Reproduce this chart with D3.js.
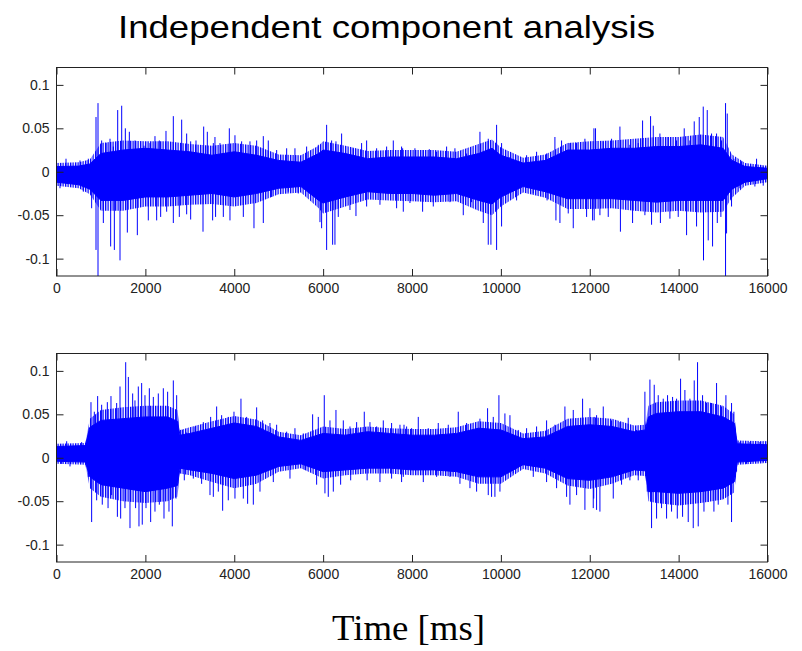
<!DOCTYPE html>
<html>
<head>
<meta charset="utf-8">
<script src="https://cdn.jsdelivr.net/npm/d3@7"></script>
<style>
  body { margin: 0; background: #fff; }
  svg { display: block; }
  .tick text { font-family: "Liberation Sans", Arial, sans-serif; font-size: 14px; fill: #222; }
  .tick line { stroke: #222; }
</style>
</head>
<body>
<div id="chart"></div>
<script>
// time ticks (ms) and amplitude ticks
const xTicks = [0, 2000, 4000, 6000, 8000, 10000, 12000, 14000, 16000];
const yTicks = [-0.1, -0.05, 0, 0.05, 0.1];
const yTickLabels = ["-0.1", "-0.05", "0", "0.05", "0.1"];

// component 1: solid core of the signal (upper / lower edge)
const core1T = [0, 500, 750, 1000, 1500, 2000, 2500, 3000, 3500, 4000, 4500, 5000, 5500, 5900, 6000, 6500, 7000, 7500, 8000, 8500, 9000, 9500, 9800, 10000, 10500, 11000, 11500, 12000, 12500, 13000, 13500, 14000, 14500, 15000, 15200, 15500, 16000];
const core1Hi = [0.006, 0.0065, 0.009, 0.021, 0.025, 0.027, 0.025, 0.023, 0.019, 0.023, 0.019, 0.013, 0.011, 0.021, 0.025, 0.021, 0.015, 0.017, 0.017, 0.017, 0.015, 0.021, 0.027, 0.019, 0.010, 0.013, 0.025, 0.025, 0.027, 0.027, 0.029, 0.029, 0.031, 0.027, 0.013, 0.006, 0.004];
const core1Lo = [-0.012, -0.015, -0.02, -0.033, -0.033, -0.029, -0.029, -0.027, -0.025, -0.029, -0.025, -0.019, -0.017, -0.033, -0.036, -0.029, -0.023, -0.025, -0.025, -0.027, -0.025, -0.033, -0.037, -0.029, -0.017, -0.023, -0.031, -0.031, -0.031, -0.033, -0.035, -0.033, -0.033, -0.033, -0.02, -0.012, -0.008];
// looser fringe around the core, where the trace is only partly filled
const fringe1Hi = [0.01, 0.011, 0.014, 0.033, 0.036, 0.035, 0.035, 0.032, 0.03, 0.033, 0.03, 0.02, 0.019, 0.03, 0.035, 0.03, 0.024, 0.025, 0.025, 0.025, 0.023, 0.032, 0.037, 0.028, 0.016, 0.02, 0.033, 0.035, 0.036, 0.038, 0.04, 0.04, 0.043, 0.04, 0.02, 0.01, 0.007];
const fringe1Lo = [-0.016, -0.019, -0.026, -0.045, -0.045, -0.04, -0.04, -0.038, -0.037, -0.04, -0.036, -0.026, -0.024, -0.042, -0.048, -0.04, -0.032, -0.033, -0.034, -0.035, -0.034, -0.045, -0.05, -0.04, -0.024, -0.03, -0.043, -0.043, -0.042, -0.045, -0.047, -0.045, -0.047, -0.046, -0.03, -0.016, -0.012];

// component 1: single peaks sticking out of the core [time, value]
const peaks1 = [
  [214, 0.015], [529, 0.013], [716, 0.015], [889, 0.063], [934, 0.079], [1016, 0.036], [1114, 0.033], [1204, 0.038], [1279, 0.029], [1377, 0.071], [1467, 0.076], [1549, 0.05], [1639, 0.046], [1767, 0.036], [1969, 0.03], [2104, 0.033], [2216, 0.041], [2314, 0.036], [2464, 0.047], [2629, 0.064], [2817, 0.06], [2929, 0.044], [3019, 0.035], [3139, 0.036], [3312, 0.052], [3394, 0.046], [3529, 0.033],
  [79, -0.019], [604, -0.023], [791, -0.042], [889, -0.09], [934, -0.121], [1054, -0.059], [1219, -0.086], [1302, -0.09], [1429, -0.102], [1594, -0.07], [1819, -0.073], [2066, -0.056], [2254, -0.056], [2344, -0.052], [2479, -0.046], [2629, -0.059], [2764, -0.052], [2929, -0.049], [3019, -0.055], [3297, -0.069], [3514, -0.056],
  [3566, 0.04], [3679, 0.033], [3889, 0.05], [4016, 0.042], [4166, 0.035], [4354, 0.035], [4504, 0.036], [4654, 0.041], [4766, 0.036], [4954, 0.025], [5179, 0.027], [5366, 0.027], [5629, 0.029], [5891, 0.031], [6079, 0.054], [6191, 0.036], [6289, 0.035], [6416, 0.044], [6679, 0.027], [6866, 0.033], [6979, 0.036], [7204, 0.027], [7429, 0.029], [7579, 0.036], [7766, 0.029],
  [3580, -0.052], [3754, -0.052], [3904, -0.056], [4204, -0.052], [4444, -0.065], [4654, -0.059], [4841, -0.029], [5216, -0.023], [5441, -0.025], [5704, -0.023], [5929, -0.058], [5966, -0.065], [6079, -0.09], [6214, -0.084], [6266, -0.084], [6341, -0.052], [6604, -0.044], [6739, -0.051], [6979, -0.04], [7279, -0.038], [7654, -0.042],
  [7790, 0.027], [8066, 0.027], [8254, 0.025], [8389, 0.026], [8554, 0.023], [8779, 0.029], [8966, 0.027], [9229, 0.021], [9529, 0.046], [9716, 0.038], [9904, 0.054], [10016, 0.033], [10204, 0.017], [10579, 0.019], [10804, 0.023], [11029, 0.021], [11216, 0.04], [11366, 0.036], [11554, 0.033], [11704, 0.033], [11891, 0.038], [12094, 0.05],
  [7804, -0.046], [7954, -0.036], [8239, -0.046], [8479, -0.04], [8854, -0.035], [9154, -0.05], [9341, -0.035], [9604, -0.059], [9716, -0.084], [9776, -0.084], [9904, -0.09], [10016, -0.063], [10354, -0.033], [10729, -0.025], [11040, -0.033], [11239, -0.056], [11329, -0.059], [11516, -0.048], [11629, -0.065], [11929, -0.052], [12064, -0.056],
  [12130, 0.05], [12304, 0.035], [12491, 0.038], [12679, 0.052], [12904, 0.031], [13091, 0.033], [13189, 0.059], [13369, 0.064], [13429, 0.053], [13579, 0.044], [13766, 0.04], [13954, 0.036], [14126, 0.05], [14254, 0.036], [14351, 0.058], [14464, 0.063], [14554, 0.075], [14644, 0.071], [14741, 0.044], [14854, 0.044], [14966, 0.036], [15056, 0.079], [15094, 0.067], [15244, 0.015], [15416, 0.012], [15754, 0.015], [15904, 0.006],
  [12100, -0.056], [12229, -0.05], [12416, -0.052], [12690, -0.069], [12964, -0.059], [13241, -0.05], [13391, -0.061], [13590, -0.059], [13804, -0.054], [13991, -0.052], [14179, -0.073], [14404, -0.063], [14560, -0.102], [14666, -0.079], [14764, -0.086], [14870, -0.059], [14951, -0.052], [15056, -0.121], [15079, -0.071], [15191, -0.04], [15379, -0.019], [15716, -0.017], [15904, -0.016]
];

// component 2
const core2T = [0, 650, 750, 1000, 1500, 2000, 2500, 2720, 2780, 3000, 3500, 4000, 4500, 5000, 5500, 6000, 6500, 7000, 7500, 8000, 8500, 9000, 9500, 10000, 10500, 11000, 11500, 12000, 12500, 13000, 13250, 13320, 13500, 14000, 14500, 15000, 15250, 15320, 16000];
const core2Hi = [0.013, 0.014, 0.035, 0.043, 0.045, 0.047, 0.047, 0.042, 0.026, 0.028, 0.034, 0.04, 0.036, 0.024, 0.02, 0.028, 0.026, 0.03, 0.028, 0.026, 0.026, 0.028, 0.034, 0.032, 0.022, 0.024, 0.036, 0.038, 0.036, 0.03, 0.032, 0.047, 0.051, 0.053, 0.053, 0.047, 0.04, 0.016, 0.015];
const core2Lo = [-0.004, -0.005, -0.022, -0.031, -0.035, -0.039, -0.035, -0.032, -0.012, -0.014, -0.018, -0.024, -0.02, -0.01, -0.007, -0.016, -0.014, -0.012, -0.012, -0.014, -0.014, -0.016, -0.022, -0.022, -0.008, -0.012, -0.024, -0.026, -0.022, -0.014, -0.015, -0.039, -0.039, -0.041, -0.039, -0.035, -0.028, -0.005, -0.003];
const fringe2Hi = [0.016, 0.017, 0.045, 0.055, 0.058, 0.06, 0.06, 0.055, 0.032, 0.035, 0.042, 0.048, 0.044, 0.03, 0.026, 0.036, 0.033, 0.036, 0.034, 0.033, 0.033, 0.035, 0.042, 0.04, 0.028, 0.031, 0.045, 0.047, 0.045, 0.037, 0.038, 0.06, 0.064, 0.066, 0.066, 0.06, 0.05, 0.02, 0.019];
const fringe2Lo = [-0.007, -0.008, -0.035, -0.045, -0.05, -0.052, -0.05, -0.045, -0.018, -0.02, -0.028, -0.035, -0.03, -0.016, -0.012, -0.024, -0.02, -0.018, -0.018, -0.02, -0.02, -0.022, -0.03, -0.03, -0.013, -0.018, -0.032, -0.036, -0.03, -0.02, -0.021, -0.05, -0.052, -0.055, -0.052, -0.048, -0.04, -0.008, -0.006];

const peaks2 = [
  [229, 0.019], [566, 0.018], [776, 0.064], [851, 0.053], [926, 0.071], [1016, 0.061], [1144, 0.064], [1226, 0.071], [1354, 0.063], [1429, 0.082], [1557, 0.11], [1617, 0.093], [1714, 0.074], [1766, 0.066], [1841, 0.082], [1916, 0.086], [1991, 0.072], [2089, 0.08], [2179, 0.07], [2291, 0.074], [2404, 0.08], [2501, 0.076], [2629, 0.089], [2704, 0.072], [2839, 0.032], [2929, 0.029], [3116, 0.036], [3304, 0.041], [3469, 0.047],
  [116, -0.007], [304, -0.01], [716, -0.022], [791, -0.074], [904, -0.049], [1030, -0.054], [1160, -0.058], [1241, -0.043], [1370, -0.068], [1444, -0.07], [1541, -0.058], [1654, -0.081], [1780, -0.058], [1856, -0.079], [1930, -0.077], [2014, -0.058], [2119, -0.074], [2216, -0.062], [2314, -0.054], [2419, -0.07], [2531, -0.062], [2606, -0.079], [2689, -0.047], [2876, -0.026], [3079, -0.024], [3266, -0.03], [3454, -0.043],
  [3604, 0.059], [3716, 0.049], [3866, 0.047], [3994, 0.053], [4151, 0.068], [4279, 0.047], [4504, 0.058], [4639, 0.043], [4804, 0.04], [4954, 0.038], [5179, 0.03], [5366, 0.034], [5554, 0.028], [5764, 0.05], [5891, 0.047], [6026, 0.072], [6154, 0.043], [6289, 0.055], [6454, 0.043], [6604, 0.036], [6754, 0.041], [6926, 0.053], [7054, 0.041], [7204, 0.036], [7354, 0.043], [7541, 0.04], [7729, 0.038], [7879, 0.036],
  [3529, -0.045], [3641, -0.039], [3739, -0.061], [3866, -0.049], [4016, -0.047], [4204, -0.047], [4301, -0.053], [4429, -0.054], [4579, -0.039], [4879, -0.028], [5254, -0.024], [5591, -0.014], [5854, -0.031], [6041, -0.041], [6116, -0.045], [6229, -0.039], [6394, -0.031], [6620, -0.026], [6990, -0.026], [7279, -0.028], [7541, -0.024], [7804, -0.022],
  [7820, 0.038], [7991, 0.034], [8141, 0.047], [8366, 0.034], [8591, 0.04], [8816, 0.038], [9041, 0.053], [9229, 0.04], [9529, 0.045], [9701, 0.057], [9829, 0.047], [9956, 0.072], [10091, 0.051], [10204, 0.049], [10391, 0.032], [10579, 0.034], [10804, 0.036], [11029, 0.043], [11216, 0.038], [11441, 0.059], [11629, 0.055], [11839, 0.068], [12004, 0.057], [12154, 0.049],
  [7766, -0.028], [8254, -0.028], [8554, -0.022], [8854, -0.022], [9079, -0.03], [9304, -0.035], [9454, -0.039], [9716, -0.043], [9791, -0.045], [9866, -0.045], [9979, -0.039], [10279, -0.018], [10729, -0.022], [11029, -0.028], [11254, -0.035], [11479, -0.045], [11554, -0.054], [11704, -0.043], [11891, -0.06], [12079, -0.058],
  [12100, 0.047], [12304, 0.059], [12491, 0.043], [12679, 0.041], [12866, 0.046], [13054, 0.032], [13241, 0.076], [13354, 0.09], [13451, 0.084], [13541, 0.072], [13654, 0.068], [13751, 0.072], [13864, 0.07], [13954, 0.068], [14044, 0.091], [14141, 0.078], [14254, 0.068], [14351, 0.089], [14426, 0.11], [14539, 0.072], [14629, 0.063], [14741, 0.063], [14854, 0.086], [14966, 0.059], [15064, 0.072], [15191, 0.063], [15244, 0.053], [15379, 0.018], [15604, 0.018], [15829, 0.018],
  [12090, -0.047], [12154, -0.06], [12229, -0.062], [12529, -0.047], [12716, -0.031], [12904, -0.026], [13091, -0.026], [13294, -0.039], [13391, -0.081], [13504, -0.07], [13616, -0.058], [13729, -0.07], [13841, -0.062], [13970, -0.07], [14089, -0.068], [14216, -0.074], [14329, -0.081], [14441, -0.079], [14570, -0.062], [14666, -0.051], [14794, -0.062], [14891, -0.054], [15004, -0.047], [15110, -0.054], [15191, -0.074], [15304, -0.016], [15529, -0.007], [15904, -0.005]
];

const width = 802, height = 651;
const svg = d3.select("#chart").append("svg")
  .attr("width", width)
  .attr("height", height);

svg.append("rect").attr("width", width).attr("height", height).attr("fill", "#fff");

// thin vertical strokes used to fill the fringe
const defs = svg.append("defs");
const pat = defs.append("pattern")
  .attr("id", "strokes")
  .attr("patternUnits", "userSpaceOnUse")
  .attr("width", 2.5)
  .attr("height", 20);
pat.append("rect").attr("x", 0).attr("y", 0).attr("width", 1.3).attr("height", 20).attr("fill", "#0000ff");

const x = d3.scaleLinear().domain([0, 16000]).range([56.5, 767.5]);

const panels = [
  { id: "p1", top: 67.5, bottom: 276, coreT: core1T, hi: core1Hi, lo: core1Lo, fHi: fringe1Hi, fLo: fringe1Lo, peaks: peaks1 },
  { id: "p2", top: 353.5, bottom: 562, coreT: core2T, hi: core2Hi, lo: core2Lo, fHi: fringe2Hi, fLo: fringe2Lo, peaks: peaks2 }
];

panels.forEach((p) => {
  const y = d3.scaleLinear().domain([-0.12, 0.12]).range([p.bottom, p.top]);

  svg.append("clipPath").attr("id", `clip-${p.id}`)
    .append("rect")
    .attr("x", x(0)).attr("y", p.top)
    .attr("width", x(16000) - x(0)).attr("height", p.bottom - p.top);

  const g = svg.append("g").attr("clip-path", `url(#clip-${p.id})`);

  // fringe, then the solid core on top
  const fringe = d3.area()
    .x((d, i) => x(p.coreT[i]))
    .y0((d, i) => y(p.fLo[i]))
    .y1((d, i) => y(p.fHi[i]));
  g.append("path")
    .datum(p.coreT)
    .attr("d", fringe)
    .attr("fill", "url(#strokes)");

  const core = d3.area()
    .x((d, i) => x(p.coreT[i]))
    .y0((d, i) => y(p.lo[i]))
    .y1((d, i) => y(p.hi[i]));
  g.append("path")
    .datum(p.coreT)
    .attr("d", core)
    .attr("fill", "#0000ff")
    .attr("stroke", "#0000ff")
    .attr("stroke-width", 1);

  // individual peaks
  g.selectAll("line.peak")
    .data(p.peaks)
    .enter()
    .append("line")
    .attr("class", "peak")
    .attr("x1", (d) => x(d[0]))
    .attr("x2", (d) => x(d[0]))
    .attr("y1", y(0))
    .attr("y2", (d) => y(d[1]))
    .attr("stroke", "#0000ff")
    .attr("stroke-width", 1);

  // axes: ticks point inward, like the original
  const bottomAxis = d3.axisBottom(x).tickValues(xTicks).tickSizeInner(-7).tickSizeOuter(0).tickPadding(7).tickFormat(d3.format("d"));
  const topAxis = d3.axisTop(x).tickValues(xTicks).tickSizeInner(-7).tickSizeOuter(0).tickFormat("");
  const leftAxis = d3.axisLeft(y).tickValues(yTicks).tickSizeInner(-7).tickSizeOuter(0).tickPadding(7)
    .tickFormat((d, i) => yTickLabels[i]);
  const rightAxis = d3.axisRight(y).tickValues(yTicks).tickSizeInner(-7).tickSizeOuter(0).tickFormat("");

  [
    svg.append("g").attr("transform", `translate(0,${p.bottom})`).call(bottomAxis),
    svg.append("g").attr("transform", `translate(0,${p.top})`).call(topAxis),
    svg.append("g").attr("transform", `translate(${x(0)},0)`).call(leftAxis),
    svg.append("g").attr("transform", `translate(${x(16000)},0)`).call(rightAxis)
  ].forEach((a) => a.select(".domain").remove());

  svg.append("rect")
    .attr("x", x(0)).attr("y", p.top)
    .attr("width", x(16000) - x(0)).attr("height", p.bottom - p.top)
    .attr("fill", "none")
    .attr("stroke", "#222")
    .attr("stroke-width", 1);
});

svg.append("text")
  .attr("x", 118)
  .attr("y", 37.7)
  .attr("textLength", 537)
  .attr("lengthAdjust", "spacingAndGlyphs")
  .style("font-family", "Liberation Sans, Arial, sans-serif")
  .style("font-size", "32px")
  .attr("fill", "#000")
  .text("Independent component analysis");

svg.append("text")
  .attr("x", 332)
  .attr("y", 640)
  .attr("textLength", 153)
  .attr("lengthAdjust", "spacingAndGlyphs")
  .style("font-family", "Liberation Serif, 'Times New Roman', serif")
  .style("font-size", "35px")
  .attr("fill", "#000")
  .text("Time [ms]");
</script>
</body>
</html>
